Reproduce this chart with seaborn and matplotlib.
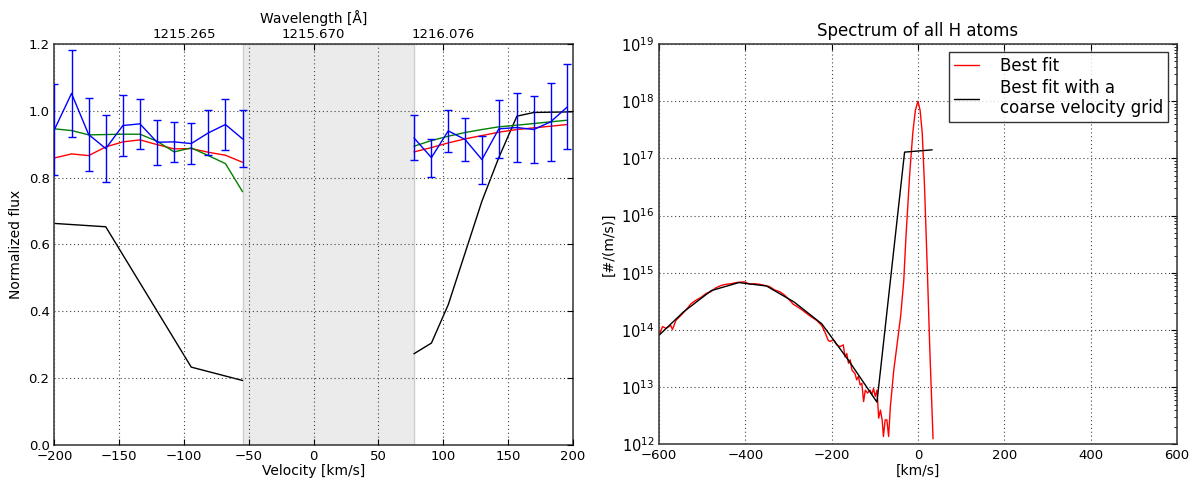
import numpy as np
import pandas as pd
import matplotlib
matplotlib.use("Agg")
import matplotlib.pyplot as plt
import seaborn as sns

# ---------------- Left panel data ----------------
vel_left = [-200.0, -186.8, -173.6, -160.4, -147.2, -134.0, -120.8, -107.6, -94.4, -81.2, -68.0, -54.8]
vel_right = [77.5, 91.0, 104.0, 117.0, 130.0, 143.0, 157.0, 170.0, 183.0, 196.0]

obs_left = [0.944, 1.052, 0.929, 0.887, 0.956, 0.961, 0.906, 0.907, 0.902, 0.934, 0.959, 0.916]
err_left = [0.135, 0.129, 0.108, 0.100, 0.090, 0.075, 0.068, 0.061, 0.061, 0.067, 0.076, 0.085]
obs_right = [0.919, 0.860, 0.940, 0.914, 0.854, 0.946, 0.950, 0.944, 0.967, 1.012]
err_right = [0.067, 0.057, 0.063, 0.065, 0.072, 0.087, 0.102, 0.100, 0.116, 0.127]

red_left = [0.859, 0.871, 0.866, 0.892, 0.907, 0.913, 0.899, 0.886, 0.887, 0.876, 0.867, 0.846]
red_right = [0.877, 0.890, 0.904, 0.916, 0.926, 0.936, 0.944, 0.949, 0.954, 0.959]

green_left = [0.946, 0.941, 0.928, 0.929, 0.930, 0.930, 0.909, 0.877, 0.889, 0.866, 0.842, 0.758]
green_right = [0.894, 0.911, 0.924, 0.935, 0.944, 0.952, 0.957, 0.962, 0.967, 0.972]

black_vel_left = [-200.0, -160.4, -94.4, -54.8]
black_left = [0.663, 0.653, 0.233, 0.193]
black_vel_right = [77.5, 91.0, 104.0, 117.0, 130.0, 143.0, 157.0, 170.0, 200.0]
black_right = [0.273, 0.305, 0.420, 0.575, 0.730, 0.860, 0.984, 0.995, 0.997]

masked_range = [-54.8, 77.5]
wl_tick_vel = [-100, 0, 100]
wl_tick_labels = ["1215.265", "1215.670", "1216.076"]

# ---------------- Right panel data ----------------
fit_vel = [-600, -592, -584, -573, -569, -561, -549, -538, -526, -515, -503, -491, -480,
           -468, -456, -445, -433, -421, -410, -401, -390, -379, -367, -355, -344, -332,
           -320, -309, -297, -289, -282, -270, -258, -247, -235, -223, -216, -208, -204,
           -196, -188, -181, -173, -169, -165, -161, -157, -153, -146, -142, -138, -134,
           -130, -126, -122, -117, -111, -107, -103, -99, -95, -91, -87, -83, -80, -76,
           -72, -68, -64, -56, -48, -40, -33, -28, -19, -12, -6, 0, 5, 10, 15, 21.5,
           27.5, 35]
fit_log = [13.91, 14.06, 14.03, 14.08, 14.01, 14.17, 14.26, 14.35, 14.46, 14.52, 14.57, 14.64, 14.67,
           14.74, 14.78, 14.80, 14.81, 14.83, 14.84, 14.84, 14.80, 14.81, 14.80, 14.78, 14.76, 14.70,
           14.67, 14.61, 14.52, 14.45, 14.42, 14.36, 14.29, 14.23, 14.17, 14.08, 13.97, 13.82, 13.80,
           13.83, 13.74, 13.71, 13.74, 13.53, 13.59, 13.42, 13.48, 13.30, 13.24, 13.13, 13.19, 13.04,
           13.07, 12.75, 12.95, 12.90, 12.95, 12.87, 12.98, 12.84, 12.95, 12.46, 12.60, 12.43, 12.14, 12.43,
           12.43, 12.14, 12.66, 13.30, 13.77, 14.25, 14.85, 15.60, 16.74, 17.44, 17.84, 18.00, 17.84, 17.44,
           16.56, 15.11, 13.66, 12.10]

coarse_vel = [-607, -543, -479, -415, -351, -287, -223, -159, -95, -31, 33]
coarse_log = [13.86, 14.32, 14.69, 14.83, 14.77, 14.49, 14.11, 13.45, 12.74, 17.11, 17.15]

# ---------------- Style ----------------
sns.set_style("white")
plt.rcParams.update({
    "font.family": ["DejaVu Sans"],
    "xtick.direction": "in",
    "ytick.direction": "in",
    "xtick.top": True,
    "ytick.right": True,
    "xtick.major.size": 4,
    "ytick.major.size": 4,
    "xtick.minor.size": 2,
    "ytick.minor.size": 2,
    "xtick.color": "black",
    "ytick.color": "black",
    "axes.edgecolor": "#333333",
    "axes.linewidth": 1.1,
    "xtick.labelsize": 9.5,
    "ytick.labelsize": 9.5,
    "axes.labelsize": 10,
    "text.color": "black",
    "axes.labelcolor": "black",
})

fig = plt.figure(figsize=(11.94, 4.86), dpi=100)
ax1 = fig.add_axes([0.0456, 0.0844, 0.434, 0.8251])
ax2 = fig.add_axes([0.552, 0.0854, 0.4336, 0.8241])

grid_kw = dict(color="#444444", linestyle=(0, (1, 2.5)), linewidth=0.8)

# ---------- left panel ----------
ax1.axvspan(masked_range[0], masked_range[1], facecolor="#ebebeb", edgecolor="#cfcfcf", linewidth=1.0, zorder=0)

def seg(ax, x, y, color, lw=1.0, z=2):
    df = pd.DataFrame({"x": x, "y": y})
    sns.lineplot(data=df, x="x", y="y", ax=ax, color=color, linewidth=lw,
                 estimator=None, sort=False, legend=False, zorder=z)

seg(ax1, black_vel_left, black_left, "black")
seg(ax1, black_vel_right, black_right, "black")
seg(ax1, vel_left, red_left, "red")
seg(ax1, vel_right, red_right, "red")
seg(ax1, vel_left, green_left, "green")
seg(ax1, vel_right, green_right, "green")
seg(ax1, vel_left, obs_left, "blue", z=3)
seg(ax1, vel_right, obs_right, "blue", z=3)
ax1.errorbar(vel_left, obs_left, yerr=err_left, fmt="none", ecolor="blue", elinewidth=1.0,
             capsize=3, capthick=1.0, zorder=3)
ax1.errorbar(vel_right, obs_right, yerr=err_right, fmt="none", ecolor="blue", elinewidth=1.0,
             capsize=3, capthick=1.0, zorder=3)

ax1.set_xlim(-200, 200)
ax1.set_ylim(0.0, 1.2)
ax1.set_xticks(np.arange(-200, 201, 50))
ax1.set_yticks(np.arange(0.0, 1.21, 0.2))
ax1.set_yticklabels([f"{v:.1f}" for v in np.arange(0.0, 1.21, 0.2)])
ax1.set_xticklabels([f"{int(v)}".replace("-", "\u2212") for v in np.arange(-200, 201, 50)])
ax1.grid(True, **grid_kw)
ax1.set_axisbelow(False)
ax1.set_xlabel("Velocity [km/s]", labelpad=1)
ax1.set_ylabel("Normalized flux", labelpad=4)

ax_top = ax1.twiny()
ax_top.set_xlim(ax1.get_xlim())
ax_top.set_xticks(wl_tick_vel)
ax_top.set_xticklabels(wl_tick_labels)
ax_top.tick_params(axis="x", direction="in", labelsize=9.5, pad=2)
ax_top.set_xlabel("Wavelength [\u00c5]", fontsize=10, labelpad=4)
for s in ax_top.spines.values():
    s.set_visible(False)

# ---------- right panel ----------
ax2.set_yscale("log")
df_fit = pd.DataFrame({"v": fit_vel, "f": np.power(10.0, fit_log)})
df_coarse = pd.DataFrame({"v": coarse_vel, "f": np.power(10.0, coarse_log)})
sns.lineplot(data=df_fit, x="v", y="f", ax=ax2, color="red", linewidth=1.0,
             estimator=None, sort=False, label="Best fit")
sns.lineplot(data=df_coarse, x="v", y="f", ax=ax2, color="black", linewidth=1.0,
             estimator=None, sort=False, label="Best fit with a\ncoarse velocity grid")
ax2.set_xlim(-600, 600)
ax2.set_ylim(1e12, 1e19)
ax2.set_xticks(np.arange(-600, 601, 200))
ax2.set_xticklabels([f"{int(v)}".replace("-", "\u2212") for v in np.arange(-600, 601, 200)])
ax2.set_yticks([10.0 ** k for k in range(12, 20)])
ax2.set_yticklabels([f"$10^{{{k}}}$" for k in range(12, 20)], fontsize=10.5)
ax2.grid(True, which="major", **grid_kw)
ax2.set_xlabel("[km/s]", labelpad=1)
ax2.set_ylabel("[#/(m/s)]", labelpad=4)
ax2.set_title("Spectrum of all H atoms", fontsize=12, pad=6)
leg = ax2.legend(loc="upper right", fontsize=12, frameon=True, fancybox=False,
                 handlelength=1.5, handletextpad=1.3, borderpad=0.3, labelspacing=0.2,
                 borderaxespad=0.5)
leg.get_frame().set_edgecolor("black")
leg.get_frame().set_linewidth(1.0)

fig.savefig("out.png", dpi=100)
